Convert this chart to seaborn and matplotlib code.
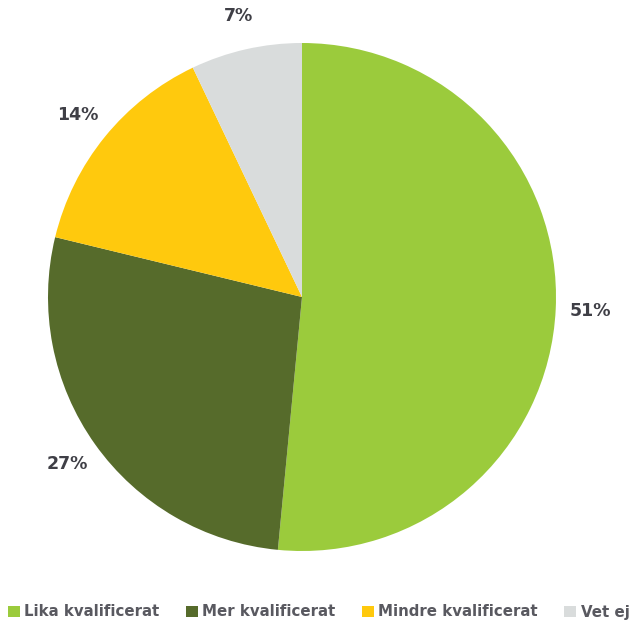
import matplotlib
matplotlib.use("Agg")
import matplotlib.pyplot as plt
import seaborn as sns
from matplotlib.patches import Patch

sns.set_theme(style="white")
plt.rcParams['font.family'] = ['DejaVu Sans']

categories = ["Lika kvalificerat", "Mer kvalificerat", "Mindre kvalificerat", "Vet ej"]
values = [51, 27, 14, 7]
labels = ["51%", "27%", "14%", "7%"]
colors = ["#9BCB3C", "#566B2B", "#FFC90D", "#D9DCDC"]

fig = plt.figure(figsize=(6.41, 6.22), dpi=100)
ax = fig.add_axes([48/641, (622-551)/622, 508/641, 508/622])
wedges, texts = ax.pie(values, labels=labels, colors=colors, startangle=90,
                       counterclock=False, labeldistance=1.135,
                       textprops=dict(fontsize=12.5, fontweight='bold', color='#3F3F46'),
                       wedgeprops=dict(linewidth=0))
for t in texts:
    t.set_horizontalalignment('center')
    t.set_verticalalignment('center')
ax.set_xlim(-1, 1)
ax.set_ylim(-1, 1)
ax.set_aspect('equal')
ax.axis('off')

handles = [Patch(facecolor=c, edgecolor='none') for c in colors]
leg = fig.legend(handles, categories, loc='center left', bbox_to_anchor=(0.012, (622-612)/622),
                 ncol=4, frameon=False, handlelength=0.8, handleheight=0.8,
                 handletextpad=0.3, columnspacing=1.75,
                 prop=dict(size=10.8, weight='bold'), borderaxespad=0, borderpad=0)
for t in leg.get_texts():
    t.set_color('#595960')

fig.savefig("out.png", dpi=100)
